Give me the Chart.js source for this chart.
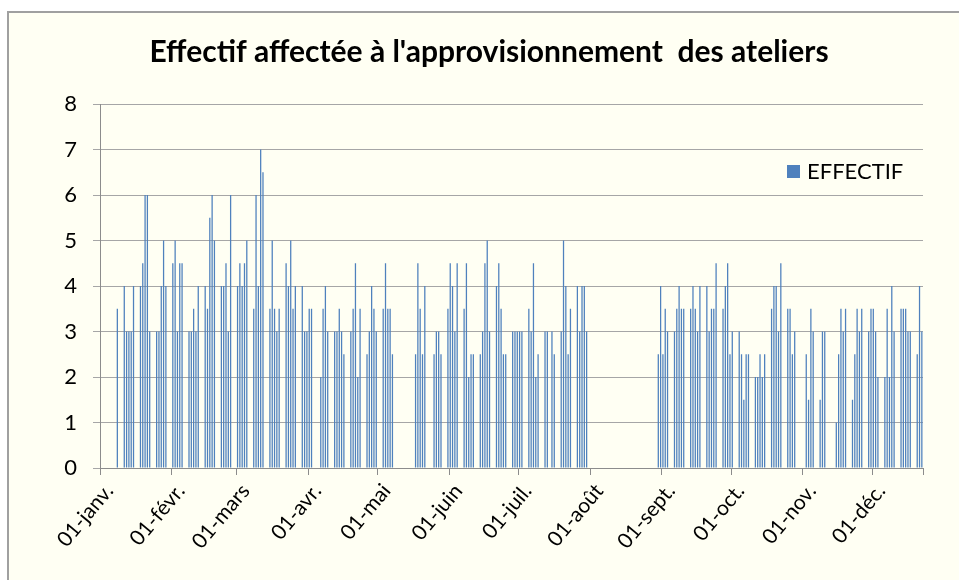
<!DOCTYPE html>
<html lang="fr">
<head>
<meta charset="UTF-8">
<title>Effectif affectée à l'approvisionnement des ateliers</title>
<style>
  html, body { margin: 0; padding: 0; background: #fff; }
  body { width: 959px; height: 580px; overflow: hidden; position: relative; }
  #frame {
    position: absolute; left: 7px; top: 11px; width: 970px; height: 590px;
    background: #fffff3; border: 2px solid #a0a0a0;
  }
  #chart { position: absolute; left: 0; top: 0; }
</style>
<script src="https://cdn.jsdelivr.net/npm/chart.js"></script>
</head>
<body>
<div id="frame"></div>
<canvas id="chart" width="959" height="580"></canvas>
<script>
// effectif journalier 2010, un tableau par mois (0 = pas de relevé)
const moisNoms = ['janv.', 'févr.', 'mars', 'avr.', 'mai', 'juin', 'juil.', 'août', 'sept.', 'oct.', 'nov.', 'déc.'];
const janv = [0,0,0,0,0,0,0,3.5,0,0,4,3,3,3,4,0,0,4,4.5,6,6,3,0,0,3,3,4,5,4,0,0];
const fevr = [4.5,5,3,4.5,4.5,0,0,3,3,3.5,3,4,0,0,4,3.5,5.5,6,5,0,0,4,4,4.5,3,6,0,0];
const mars = [4,4.5,4,4.5,5,0,0,3.5,6,4,7,6.5,0,0,3.5,5,3.5,3,3.5,0,0,4.5,4,5,3.5,4,0,0,4,3,3];
const avr  = [3.5,3.5,0,0,0,2,3.5,4,3,0,0,3,3,3.5,3,2.5,0,0,3,3.5,4.5,2,3.5,0,0,2.5,3,4,3.5,3];
const mai  = [0,0,3.5,4.5,3.5,3.5,2.5,0,0,0,0,0,0,0,0,0,2.5,4.5,3.5,2.5,4,0,0,0,2.5,3,3,2.5,0,0,3.5];
const juin = [4.5,4,3,4.5,0,0,3.5,4.5,2,2.5,2.5,0,0,2.5,3,4.5,5,3,0,0,4,4.5,3.5,2.5,2.5,0,0,3,3,3];
const juil = [3,3,0,0,3.5,3,4.5,2,2.5,0,0,3,3,0,3,2.5,0,0,3,5,4,2.5,3.5,0,0,4,3,4,4,3,0];
const aout = [0,0,0,0,0,0,0,0,0,0,0,0,0,0,0,0,0,0,0,0,0,0,0,0,0,0,0,0,0,2.5,4];
const sept = [2.5,3.5,3,0,0,3,3.5,4,3.5,3.5,0,0,3.5,4,3.5,3,4,0,0,4,3,3.5,3.5,4.5,0,0,3.5,4,4.5,2.5];
const oct  = [3,0,0,3,2.5,1.5,2.5,2.5,0,0,2,2,2.5,2,2.5,0,0,3.5,4,4,3,4.5,0,0,3.5,3.5,2.5,3,0,0,0];
const nov  = [0,2.5,1.5,3.5,3,0,0,1.5,3,3,0,0,0,0,1,2.5,3.5,3,3.5,0,0,1.5,2.5,3.5,3,3.5,0,0,3,3.5];
const dec  = [3.5,3,2,0,0,2,3.5,2,4,3,0,0,3.5,3.5,3.5,3,3,0,0,2.5,4,3];

const parMois = [janv, fevr, mars, avr, mai, juin, juil, aout, sept, oct, nov, dec];

const jours = [];
const effectif = [];
parMois.forEach((mois, m) => {
  mois.forEach((v, i) => {
    jours.push(String(i + 1).padStart(2, '0') + '-' + moisNoms[m]);
    effectif.push(v);
  });
});

const FONT = 'Lato, "Noto Sans", sans-serif';
const GRIS = '#8c8c8c';

// titre et légende posés directement sur le canvas
const habillage = {
  id: 'habillage',
  afterDraw(chart) {
    const c = chart.ctx;
    c.save();
    c.fillStyle = '#000';
    c.font = 'bold 30px ' + FONT;
    c.textAlign = 'center';
    c.textBaseline = 'middle';
    c.fillText("Effectif affectée à l'approvisionnement  des ateliers", 489, 52);

    c.fillStyle = '#4F81BD';
    c.fillRect(787, 165, 13, 13);
    c.fillStyle = '#000';
    c.font = '22px ' + FONT;
    c.textAlign = 'left';
    c.fillText('EFFECTIF', 807, 172);
    c.restore();
  }
};

new Chart(document.getElementById('chart'), {
  type: 'bar',
  data: {
    labels: jours,
    datasets: [{
      label: 'EFFECTIF',
      data: effectif,
      backgroundColor: '#4F81BD',
      barPercentage: 0.55,
      categoryPercentage: 1
    }]
  },
  options: {
    responsive: false,
    animation: false,
    layout: { padding: { left: 0, right: 36, top: 104, bottom: 0 } },
    plugins: {
      legend: { display: false },
      title: { display: false },
      tooltip: { enabled: false }
    },
    scales: {
      x: {
        offset: true,
        grid: {
          offset: true,
          drawOnChartArea: false,
          tickLength: 7,
          color: ctx => (!ctx.tick || ctx.tick.label) ? GRIS : 'rgba(0,0,0,0)'
        },
        border: { color: GRIS },
        ticks: {
          autoSkip: false,
          minRotation: 50,
          maxRotation: 50,
          padding: 4,
          labelOffset: 8,
          color: '#000',
          font: { family: FONT, size: 21 },
          callback: (v, i) => jours[i].startsWith('01-') ? jours[i] : ''
        },
        afterFit: s => { s.height = 112; }
      },
      y: {
        min: 0,
        max: 8,
        ticks: {
          stepSize: 1,
          padding: 16,
          color: '#000',
          font: { family: FONT, size: 22 }
        },
        grid: { color: '#a6a6a6', tickLength: 7 },
        border: { color: GRIS },
        afterFit: s => { s.width = 100; }
      }
    }
  },
  plugins: [habillage]
});
</script>
</body>
</html>
